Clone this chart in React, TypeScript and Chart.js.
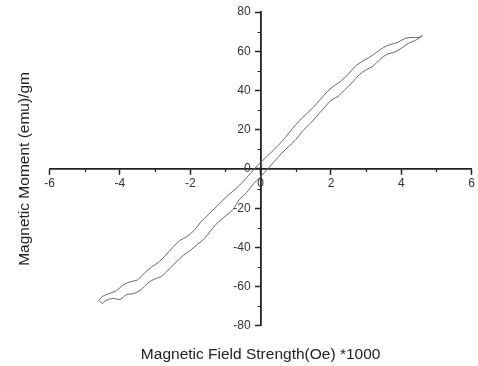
import React, { useEffect, useRef } from "react";
import { Chart, registerables } from "chart.js";

Chart.register(...registerables);

// Descending branch (from +H to -H), upper curve
const fieldDesc = [4.6, 4.5, 4.3, 4.1, 3.9, 3.7, 3.5, 3.3, 3.1, 2.9, 2.7, 2.5, 2.3, 2.1, 1.9, 1.7, 1.5, 1.3, 1.1, 0.9, 0.7, 0.5, 0.3, 0.1, -0.1, -0.3, -0.5, -0.7, -0.9, -1.1, -1.3, -1.5, -1.7, -1.9, -2.1, -2.3, -2.5, -2.7, -2.9, -3.1, -3.3, -3.5, -3.7, -3.9, -4.1, -4.3, -4.5, -4.6];
const momentDesc = [68, 67, 67, 66.5, 64.5, 63.5, 62, 59.5, 57, 55, 52.5, 48.5, 45, 42.5, 39.5, 35.5, 31.5, 28, 24.5, 20.5, 16, 12, 8.5, 5, 1.5, -2.5, -6.5, -10, -13, -16.5, -20, -23.5, -27, -31.5, -34.5, -36.5, -40, -44, -47.5, -50, -53, -56.5, -57.5, -59, -62, -63.5, -65, -67];

// Ascending branch (from -H to +H), lower curve
const fieldAsc = [-4.6, -4.5, -4.4, -4.2, -4.0, -3.8, -3.6, -3.4, -3.2, -3.0, -2.8, -2.6, -2.4, -2.2, -2.0, -1.8, -1.6, -1.4, -1.2, -1.0, -0.8, -0.6, -0.4, -0.2, 0.0, 0.2, 0.4, 0.6, 0.8, 1.0, 1.2, 1.4, 1.6, 1.8, 2.0, 2.2, 2.4, 2.6, 2.8, 3.0, 3.2, 3.4, 3.6, 3.8, 4.0, 4.2, 4.4, 4.6];
const momentAsc = [-67, -68.5, -67, -66, -66.5, -64, -63.5, -61.5, -58, -56, -54.5, -51, -47.5, -44, -41.5, -38.5, -35.5, -31, -27, -24, -21, -15.5, -12, -7.5, -4, 0, 4, 8, 11.5, 15, 19.5, 23, 27, 31, 35, 37, 40.5, 44, 48, 50.5, 52.5, 56, 58.5, 59.5, 61.5, 64, 65.5, 68];

const minorXTicks = [-5, -3, -1, 1, 3, 5];
const minorYTicks = [-70, -50, -30, -10, 10, 30, 50, 70];

const xTitle = "Magnetic Field Strength(Oe) *1000";
const yTitle = "Magnetic Moment (emu)/gm";

const FONT = "'Liberation Sans', Arial, sans-serif";
const AXIS = "#222";

const axisDecorPlugin = {
  id: "axisDecor",
  afterDraw(chart: any) {
    const { ctx, scales } = chart;
    const xs = scales.x;
    const ys = scales.y;
    const axisY = ys.getPixelForValue(0);
    const axisX = xs.getPixelForValue(0);
    ctx.save();
    ctx.strokeStyle = AXIS;
    ctx.lineWidth = 1.2;
    ctx.beginPath();
    minorXTicks.forEach((v) => {
      const px = Math.round(xs.getPixelForValue(v)) + 0.5;
      ctx.moveTo(px, axisY);
      ctx.lineTo(px, axisY + 3);
    });
    minorYTicks.forEach((v) => {
      const py = Math.round(ys.getPixelForValue(v)) + 0.5;
      ctx.moveTo(axisX, py);
      ctx.lineTo(axisX - 3, py);
    });
    ctx.stroke();
    // y tick labels, placed left of the centred y axis
    ctx.fillStyle = "#333";
    ctx.font = "12px " + FONT;
    ctx.textAlign = "right";
    ctx.textBaseline = "middle";
    ys.ticks.forEach((t: any) => {
      ctx.fillText(String(t.value), axisX - 10, ys.getPixelForValue(t.value));
    });
    ctx.restore();
  },
};

export default function App() {
  const ref = useRef<HTMLCanvasElement | null>(null);

  useEffect(() => {
    document.body.style.margin = "0";
    const canvas = ref.current;
    if (!canvas) return;
    const toPts = (xs: number[], ys: number[]) => xs.map((x, i) => ({ x, y: ys[i] }));
    const chart = new Chart(canvas, {
      type: "scatter",
      data: {
        datasets: [
          {
            data: toPts(fieldDesc, momentDesc),
            showLine: true,
            borderColor: "#666",
            borderWidth: 1,
            pointRadius: 0,
            tension: 0.35,
          },
          {
            data: toPts(fieldAsc, momentAsc),
            showLine: true,
            borderColor: "#666",
            borderWidth: 1,
            pointRadius: 0,
            tension: 0.35,
          },
        ],
      },
      options: {
        responsive: false,
        animation: false,
        devicePixelRatio: 1,
        layout: { padding: { top: 12, right: 6, left: 0, bottom: 0 } },
        plugins: {
          legend: { display: false },
          tooltip: { enabled: false },
          title: {
            display: true,
            position: "bottom",
            fullSize: false,
            text: xTitle,
            color: "#222",
            font: { family: FONT, size: 15.5, weight: "normal" },
            padding: { top: 19.5, bottom: 2 },
          },
          subtitle: {
            display: true,
            position: "left",
            fullSize: false,
            text: yTitle,
            color: "#222",
            font: { family: FONT, size: 15.5, weight: "normal" },
            padding: { top: 15.5, bottom: 15.5 },
          },
        },
        scales: {
          x: {
            type: "linear",
            position: { y: 0 } as any,
            min: -6,
            max: 6,
            ticks: {
              stepSize: 2,
              color: "#333",
              padding: 3,
              font: { family: FONT, size: 12 },
            },
            grid: {
              drawOnChartArea: false,
              drawTicks: true,
              tickLength: 5,
              tickWidth: 1.5,
              tickColor: AXIS,
            },
            border: { color: AXIS, width: 1.8 },
          },
          y: {
            type: "linear",
            position: { x: 0 } as any,
            min: -80,
            max: 80,
            ticks: {
              stepSize: 20,
              display: false,
            },
            grid: {
              drawOnChartArea: false,
              drawTicks: true,
              tickLength: 5,
              tickWidth: 1.5,
              tickColor: AXIS,
            },
            border: { color: AXIS, width: 1.8 },
          },
        },
      },
      plugins: [axisDecorPlugin],
    });
    return () => chart.destroy();
  }, []);

  return (
    <div style={{ width: 478, height: 366 }}>
      <canvas ref={ref} width={478} height={366} style={{ display: "block" }} />
    </div>
  );
}
